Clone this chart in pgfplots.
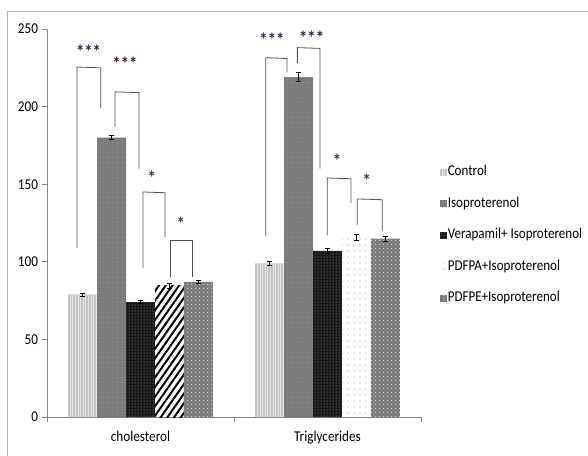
\documentclass[border=0pt]{standalone}
\usepackage{fontspec}
\setmainfont{Carlito}[FakeStretch=0.88]
\newfontfamily\legfont{Carlito}[FakeStretch=0.87]
\usepackage{pgfplots}
\pgfplotsset{compat=1.18}
\usetikzlibrary{patterns,patterns.meta}
\definecolor{axgray}{HTML}{868686}
\definecolor{brk}{HTML}{505050}
\definecolor{stA}{HTML}{1C2A4A}
\definecolor{stB}{HTML}{4A1A1A}
\definecolor{stC}{HTML}{4A3418}
\begin{document}
\begin{tikzpicture}
\begin{axis}[
  at={(0pt,0pt)}, anchor=origin,
  scale only axis, width=374pt, height=388pt,
  xmin=0.5, xmax=2.5, ymin=0, ymax=250,
  ybar=0pt, bar width=0.155,
  axis x line*=bottom, axis y line*=left,
  axis line style={axgray, line width=0.8pt},
  tick style={axgray, line width=0.8pt},
  tick align=outside, major tick length=4.5pt,
  xtick={0.5,1.5,2.5}, xticklabels={},
  extra x ticks={1,2}, extra x tick labels={cholesterol,Triglycerides},
  extra x tick style={major tick length=0pt, tick label style={yshift=-11pt}},
  ytick={0,50,100,150,200,250},
  yticklabel style={xshift=-1pt},
  tick label style={font=\fontsize{15}{17}\selectfont},
  /pgf/number format/assume math mode=true,
  clip=false,
  legend cell align=left,
  legend image code/.code={\path[#1,draw=none] (0pt,-3.5pt) rectangle (6.5pt,3.5pt);},
  legend style={at={(axis description cs:1.051,0.6495)}, anchor=north west,
    draw=none, fill=none, row sep=17.5pt, inner sep=0pt,
    font=\legfont\fontsize{15}{16}\selectfont,
    nodes={inner sep=1pt, text height=9.5pt, text depth=2.5pt},
    /tikz/every even column/.style={column sep=0.5pt}},
  error bars/y dir=both, error bars/y explicit,
  error bars/error bar style={black, line width=0.6pt},
  error bars/error mark options={black, rotate=90, mark size=2.8pt, line width=0.6pt},
]
% Control
\addplot[draw=none, fill={rgb,255:red,196;green,196;blue,196},
  postaction={pattern={Lines[angle=90,distance=2.6pt,line width=0.8pt]}, pattern color=white!80!gray},
  bar shift=-0.31]
  table[x=x,y=y,y error=e] {
x y e
1 79 1.0
2 99 1.5
};
% Isoproterenol
\addplot[draw=none, fill={rgb,255:red,122;green,122;blue,122},
  postaction={pattern={Dots[distance=2.5pt,radius=0.45pt]}, pattern color=gray!75},
  bar shift=-0.155]
  table[x=x,y=y,y error=e] {
x y e
1 180 1.2
2 219 3.0
};
% Verapamil
\addplot[draw=none, fill={rgb,255:red,24;green,24;blue,24},
  postaction={pattern={Dots[distance=3pt,radius=0.5pt]}, pattern color=gray!70},
  bar shift=0]
  table[x=x,y=y,y error=e] {
x y e
1 74 1.0
2 107 1.5
};
% PDFPA (cholesterol, striped)
\addplot[forget plot, draw=none, fill=white,
  postaction={pattern={Lines[angle=55,distance=5.5pt,line width=2pt]}, pattern color=black},
  bar shift=0.155]
  table[x=x,y=y,y error=e] {
x y e
1 84.5 1.5
};
% PDFPA (triglycerides, dotted)
\addplot[draw=none, fill=white,
  postaction={pattern={Dots[distance=6pt,radius=0.6pt]}, pattern color=gray!80},
  bar shift=0.155]
  table[x=x,y=y,y error=e] {
x y e
2 116 2.0
};
% PDFPE
\addplot[draw=none, fill={rgb,255:red,125;green,125;blue,125},
  postaction={pattern={Dots[distance=4pt,radius=0.7pt]}, pattern color=gray!35},
  bar shift=0.31]
  table[x=x,y=y,y error=e] {
x y e
1 87 1.0
2 115 1.5
};
\legend{Control,Isoproterenol,Verapamil+ Isoproterenol,PDFPA+Isoproterenol,PDFPE+Isoproterenol}

% significance brackets - cholesterol
\draw[brk, line width=0.8pt] (axis cs:0.660,109) -- (axis cs:0.660,225.5) -- (axis cs:0.787,225) -- (axis cs:0.787,199);
\draw[brk, line width=0.8pt] (axis cs:0.864,187) -- (axis cs:0.864,209.5) -- (axis cs:0.992,209) -- (axis cs:0.992,160);
\draw[brk, line width=0.8pt] (axis cs:1.013,96) -- (axis cs:1.013,145) -- (axis cs:1.131,144.5) -- (axis cs:1.131,116);
\draw[brk, line width=0.8pt] (axis cs:1.158,90) -- (axis cs:1.158,114) -- (axis cs:1.279,114) -- (axis cs:1.279,90);
% significance brackets - triglycerides
\draw[brk, line width=0.8pt] (axis cs:1.670,116.5) -- (axis cs:1.670,231.5) -- (axis cs:1.783,231) -- (axis cs:1.783,222);
\draw[brk, line width=0.8pt] (axis cs:1.839,228) -- (axis cs:1.839,238) -- (axis cs:1.960,237.5) -- (axis cs:1.960,160);
\draw[brk, line width=0.8pt] (axis cs:1.999,117) -- (axis cs:1.999,154) -- (axis cs:2.126,153.5) -- (axis cs:2.126,138);
\draw[brk, line width=0.8pt] (axis cs:2.159,124) -- (axis cs:2.159,140.5) -- (axis cs:2.293,140) -- (axis cs:2.293,120);
% stars
\begin{scope}[every node/.style={anchor=base, inner sep=0pt, font=\fontsize{19}{19}\selectfont\bfseries}]
\node[stA] at (axis cs:0.722,231) {***};
\node[stB] at (axis cs:0.917,223.5) {***};
\node[stC] at (axis cs:1.061,150) {*};
\node[stC] at (axis cs:1.215,120) {*};
\node[stA] at (axis cs:1.703,239) {***};
\node[stA] at (axis cs:1.915,240) {***};
\node[stC] at (axis cs:2.051,161) {*};
\node[stC] at (axis cs:2.210,148) {*};
\end{scope}
\end{axis}
\draw[gray!60, line width=0.8pt] (-40pt,-80pt) -- (-40pt,406pt) -- (600pt,406pt);
\pgfresetboundingbox
\useasboundingbox (-47pt,-38pt) rectangle (541pt,417pt);
\end{tikzpicture}
\end{document}
